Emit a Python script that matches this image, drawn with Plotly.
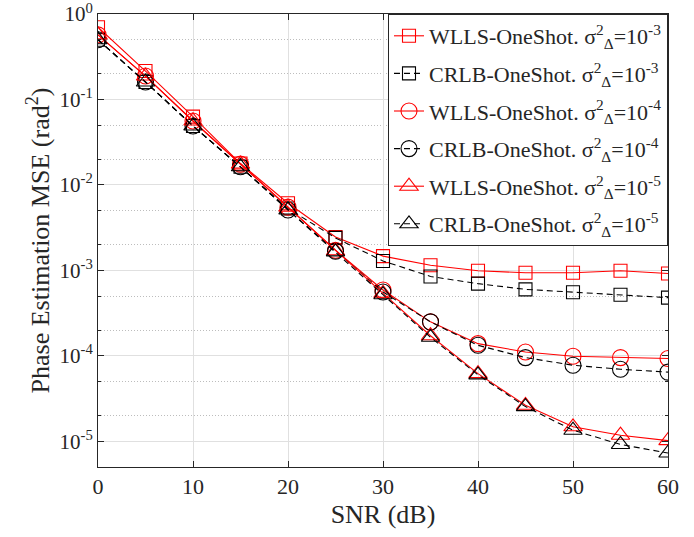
import plotly.graph_objects as go

snr = [0, 5, 10, 15, 20, 25, 30, 35, 40, 45, 50, 55, 60]

wlls_3 = [0.70, 0.215, 0.063, 0.0178, 0.0061, 0.00246, 0.00147, 0.00115, 0.00099, 0.00094, 0.00094, 0.00099, 0.00092]
crlb_3 = [0.50, 0.16, 0.049, 0.0163, 0.0053, 0.0024, 0.00129, 0.00085, 0.00070, 0.00060, 0.000556, 0.00052, 0.00048]
wlls_4 = [0.57, 0.188, 0.056, 0.0175, 0.0055, 0.00172, 0.00059, 0.00025, 0.000139, 0.000111, 0.0000989, 0.0000955, 0.0000933]
crlb_4 = [0.50, 0.16, 0.049, 0.0163, 0.0051, 0.00168, 0.00056, 0.00025, 0.000133, 0.0000955, 0.0000777, 0.0000697, 0.0000646]
wlls_5 = [0.57, 0.188, 0.056, 0.0175, 0.0055, 0.0017, 0.00054, 0.000172, 0.000062, 0.0000264, 0.0000148, 0.0000118, 0.0000102]
crlb_5 = [0.50, 0.16, 0.049, 0.0163, 0.0051, 0.00165, 0.00052, 0.000165, 0.00006, 0.0000255, 0.0000135, 0.0000092, 0.0000073]

ytick_vals = [1, 0.1, 0.01, 0.001, 0.0001, 0.00001]
ytick_text = ["10<sup>0</sup>", "10<sup>-1</sup>", "10<sup>-2</sup>",
              "10<sup>-3</sup>", "10<sup>-4</sup>", "10<sup>-5</sup>"]

SIG = "σ<sup>2</sup><sub>Δ</sub>"
series = [
    ("WLLS-OneShot. " + SIG + "=10<sup>-3</sup>", wlls_3, "red", "solid", "square-open", 13),
    ("CRLB-OneShot. " + SIG + "=10<sup>-3</sup>", crlb_3, "black", "6px,4px", "square-open", 13),
    ("WLLS-OneShot. " + SIG + "=10<sup>-4</sup>", wlls_4, "red", "solid", "circle-open", 16),
    ("CRLB-OneShot. " + SIG + "=10<sup>-4</sup>", crlb_4, "black", "6px,4px", "circle-open", 16),
    ("WLLS-OneShot. " + SIG + "=10<sup>-5</sup>", wlls_5, "red", "solid", "triangle-up-open", 16),
    ("CRLB-OneShot. " + SIG + "=10<sup>-5</sup>", crlb_5, "black", "6px,4px", "triangle-up-open", 16),
]

fig = go.Figure()
for i, (name, vals, col, dash, sym, sz) in enumerate(series):
    fig.add_trace(go.Scatter(
        x=snr, y=vals, name=name, mode="lines+markers", legendgroup=f"g{i}",
        line=dict(color=col, width=1.1, dash=dash),
        marker=dict(symbol=sym, size=sz, color=col, line=dict(width=1.1, color=col)),
    ))

font = "Liberation Serif, Times New Roman, serif"
fig.update_layout(
    width=694, height=537,
    margin=dict(l=98, r=26, t=14, b=70),
    paper_bgcolor="white", plot_bgcolor="white",
    font=dict(family=font, size=22, color="#262626"),
    showlegend=True,
    legend=dict(
        x=1, y=1, xanchor="right", yanchor="top",
        bgcolor="white", bordercolor="#262626", borderwidth=1,
        font=dict(family=font, size=22, color="#262626"),
        tracegroupgap=6,
    ),
    xaxis=dict(
        title=dict(text="SNR (dB)", standoff=6),
        range=[0, 60], tickvals=[0, 10, 20, 30, 40, 50, 60],
        showgrid=True, gridcolor="#e0e0e0", gridwidth=1,
        ticks="inside", ticklen=6, tickcolor="#262626",
        showline=True, linecolor="#262626", linewidth=1, mirror="ticks",
        zeroline=False, automargin=False, ticklabeloverflow="allow",
    ),
    yaxis=dict(
        title=dict(text="Phase Estimation MSE (rad<sup>2</sup>)", standoff=2),
        type="log", range=[-5.3, 0],
        tickvals=ytick_vals, ticktext=ytick_text, tickfont=dict(size=21),
        showgrid=True, gridcolor="#e0e0e0", gridwidth=1,
        ticks="inside", ticklen=6, tickcolor="#262626",
        showline=True, linecolor="#262626", linewidth=1, mirror="ticks",
        zeroline=False, automargin=False, ticklabeloverflow="allow",
        minor=dict(ticks="inside", ticklen=3, tickcolor="#262626",
                   showgrid=True, gridcolor="#bdbdbd", griddash="1px,2px", gridwidth=1),
    ),
)

# drop the default page margin so the figure sits at the window origin
fig.write_html("out.html", config={"displayModeBar": False},
               post_script="document.body.style.margin='0';")
